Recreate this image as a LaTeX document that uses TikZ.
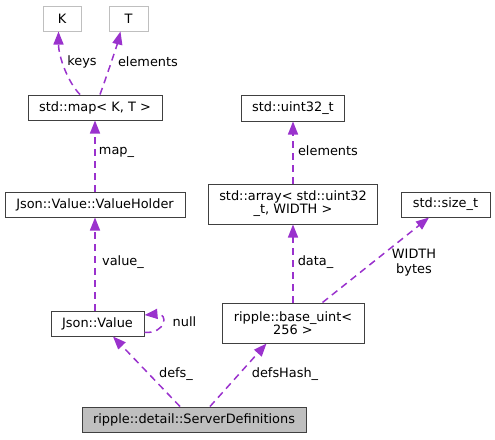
\documentclass[tikz,border=0pt]{standalone}
\usepackage{fontspec}
\setmainfont{DejaVu Sans}
\usetikzlibrary{arrows.meta,calc}
\definecolor{edgepurple}{HTML}{9A32CD}
\definecolor{boxline}{HTML}{404040}
\definecolor{ghostline}{HTML}{BFBFBF}
\definecolor{focusfill}{HTML}{BFBFBF}
\tikzset{
  cls/.style={draw=boxline, line width=1pt, fill=white, inner sep=0pt,
    font=\fontsize{12.9}{13.2}\selectfont, align=center},
  ghost/.style={cls, draw=ghostline},
  focus/.style={cls, fill=focusfill},
  rel/.style={draw=edgepurple, line width=1.5pt, dash pattern=on 7pt off 5pt,
    -{Triangle[length=13pt,width=10pt,fill=edgepurple]}},
  lbl/.style={font=\fontsize{12.9}{15}\selectfont, inner sep=0pt, align=center}
}
\begin{document}
\begin{tikzpicture}[x=1pt,y=-1pt]
  \useasboundingbox (0,0) rectangle (495,439);

  % class boxes
  \node[ghost, minimum width=38pt, minimum height=25pt] (K) at (62,18.5) {K};
  \node[ghost, minimum width=39pt, minimum height=25pt] (T) at (128.5,18.5) {T};
  \node[cls, minimum width=134pt, minimum height=25pt] (map) at (95,107.5) {std::map< K, T >};
  \node[cls, minimum width=180pt, minimum height=25pt] (vh) at (95,204.5) {Json::Value::ValueHolder};
  \node[cls, minimum width=103pt, minimum height=26pt] (u32) at (293,108) {std::uint32\_t};
  \node[cls, minimum width=169pt, minimum height=40pt] (arr) at (293,204) {std::array< std::uint32\\\_t, WIDTH >};
  \node[cls, minimum width=89pt, minimum height=25pt] (szt) at (445.5,204.5) {std::size\_t};
  \node[cls, minimum width=93pt, minimum height=25pt] (jv) at (97.5,323.5) {Json::Value};
  \node[cls, minimum width=142pt, minimum height=40pt] (bu) at (293,323) {ripple::base\_uint<\\256 >};
  \node[focus, minimum width=224pt, minimum height=25pt] (sd) at (194,419.5) {ripple::detail::ServerDefinitions};

  % relations
  \draw[rel] ([xshift=-15pt]map.north) .. controls ($([xshift=-15pt]map.north)+(-12,-12)$) and ($([xshift=-3.5pt]K.south)+(0,25)$) .. ([xshift=-3.5pt]K.south);
  \draw[rel] ([xshift=5pt]map.north) .. controls ($([xshift=5pt]map.north)+(8,-22)$) and ($([xshift=-8pt]T.south)+(-3,12)$) .. ([xshift=-8pt]T.south);
  \draw[rel] (vh.north) -- (map.south);
  \draw[rel] (jv.north -| vh.south) -- (vh.south);
  \draw[rel] ([yshift=-9pt]jv.east) .. controls +(22,1) and +(24,-2) .. ([yshift=8.5pt]jv.east);
  \draw[rel] ([xshift=-14pt]sd.north) -- ([xshift=15.5pt]jv.south);
  \draw[rel] ([xshift=16pt]sd.north) -- ([xshift=-26.5pt]bu.south);
  \draw[rel] (bu.north) -- (arr.south);
  \draw[rel] ([xshift=29.5pt]bu.north) -- ([xshift=-16.5pt]szt.south);
  \draw[rel] (arr.north) -- (u32.south);

  % relation labels
  \node[lbl] (lkeys) at (82,62) {keys};
  \node[lbl] (lelemT) at (148,62) {elements};
  \node[lbl] (lmap) at (116.5,152) {map\_};
  \node[lbl] (lvalue) at (123,262) {value\_};
  \node[lbl] (lnull) at (184.5,322) {null};
  \node[lbl] (ldefs) at (176,374) {defs\_};
  \node[lbl] (ldefsh) at (285,374) {defsHash\_};
  \node[lbl] (ldata) at (315.5,262) {data\_};
  \node[lbl] (lwidth) at (414,262.5) {WIDTH\\bytes};
  \node[lbl] (lelemU) at (328,151) {elements};
\end{tikzpicture}
\end{document}
